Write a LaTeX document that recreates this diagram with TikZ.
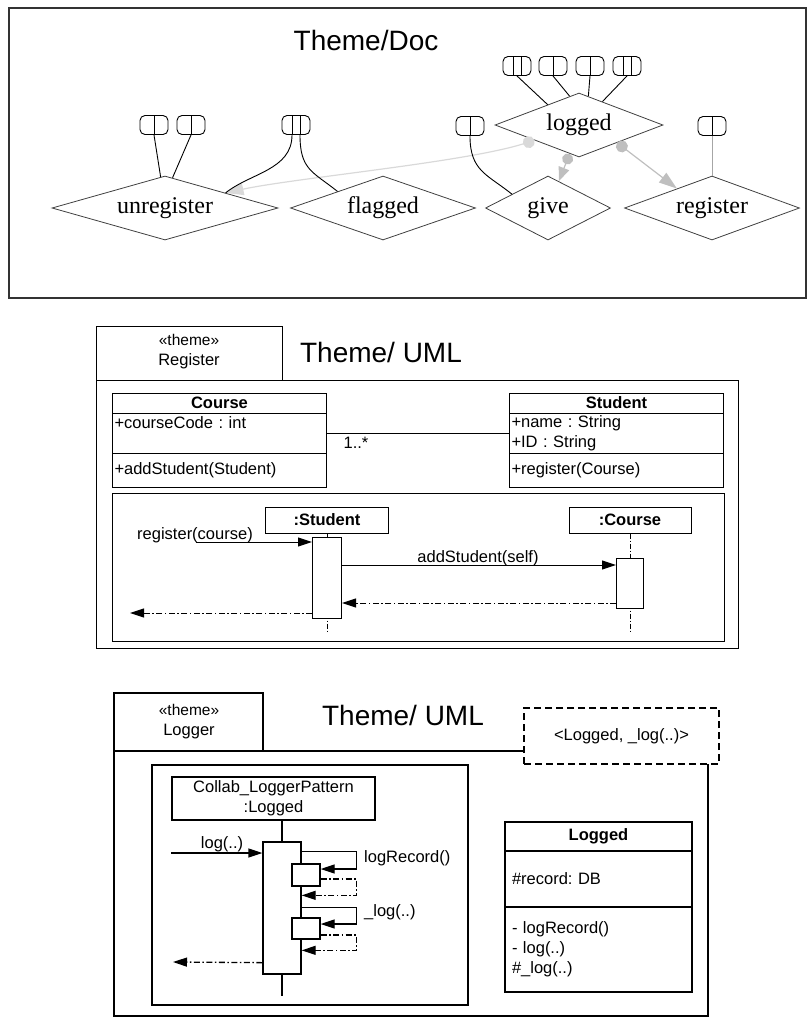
\documentclass[tikz,border=0pt]{standalone}
\usepackage{fontspec}
\setmainfont{Liberation Serif}
\setsansfont{Liberation Sans}
\usetikzlibrary{shapes.geometric,arrows.meta,positioning}
\frenchspacing

\newcommand{\umlfont}{\sffamily\fontsize{16.5}{20}\selectfont}
\newcommand{\ttlfont}{\sffamily\fontsize{28}{32}\selectfont}
\newcommand{\relfont}{\rmfamily\fontsize{24}{28}\selectfont}

\tikzset{
  rel/.style={diamond, draw=black!75, line width=0.8pt, shape aspect=3, inner sep=0pt, minimum height=64pt, font=\relfont},
  portbox/.style={draw, rounded corners=5pt, minimum width=28pt, minimum height=19pt, inner sep=0pt, line width=0.9pt},
  port/.style={portbox, path picture={\draw[line width=0.9pt] (path picture bounding box.north) -- (path picture bounding box.south);}},
  dport/.style={portbox, path picture={\draw[line width=0.9pt] ([xshift=-4pt]path picture bounding box.north) -- ([xshift=-4pt]path picture bounding box.south) ([xshift=4pt]path picture bounding box.north) -- ([xshift=4pt]path picture bounding box.south);}},
  garr/.style={line width=1.2pt, {Circle[length=12pt]}-{Triangle[length=18pt,width=12pt]}},
  clshead/.style={draw, line width=1pt, minimum width=214pt, minimum height=20pt, inner sep=0pt, outer sep=0pt, font=\umlfont\bfseries},
  clsrow/.style={draw, line width=1pt, text width=210pt, inner xsep=2pt, inner ysep=1pt, outer sep=0pt, align=left, font=\umlfont},
  objbox/.style={draw, line width=1pt, minimum height=26pt, inner sep=0pt, font=\umlfont\bfseries},
  act/.style={draw, line width=1pt, fill=white, minimum width=29pt, inner sep=0pt},
  life/.style={line width=0.8pt, dash pattern=on 5pt off 2pt on 1pt off 2pt},
  msg/.style={line width=1pt, -{Triangle[length=14pt,width=9pt]}},
  ret/.style={line width=1pt, dash pattern=on 6pt off 2.5pt on 1.5pt off 2.5pt, -{Triangle[length=14pt,width=9pt]}},
  lbl/.style={font=\umlfont, inner sep=0pt}
}

\begin{document}
\begin{tikzpicture}[x=1pt, y=-1pt]
\useasboundingbox (0,0) rectangle (810,1021);

\draw[line width=1.6pt, draw=black!80] (9,8) rectangle (806,298);
\node[font=\ttlfont] (doctitle) at (366,40) {Theme/Doc};

\node[rel, minimum width=226pt] (unreg) at (165,208) {unregister};
\node[rel, minimum width=185pt] (flag) at (383,208) {flagged};
\node[rel, minimum width=125pt] (give) at (548,208) {give};
\node[rel, minimum width=175pt] (reg) at (712,208) {register};
\node[rel, minimum width=168pt] (logd) at (579,125) {logged};

\node[port] (u1) at (154,125) {};
\node[port] (u2) at (191,125) {};
\node[dport] (fp) at (296,125) {};
\node[port] (gp) at (470,126) {};
\node[port] (rp) at (712,126) {};
\foreach \n/\s/\x in {l1/dport/517, l2/port/553, l3/port/590, l4/dport/627}
  \node[\s] (\n) at (\x,66) {};

\draw[garr, draw=gray!30] (logd.199) .. controls +(-70,22) and +(70,-15) .. (unreg.14);
\draw[line width=1.2pt, draw=gray!50, {Circle[length=11pt]}-{Triangle[length=14pt,width=11pt]}] (logd.252) -- (give.68);
\draw[garr, draw=gray!50] (logd.335) -- (reg.151);

\draw[line width=0.9pt] (u1.south) -- (unreg.98);
\draw[line width=0.9pt] (u2.south) -- (unreg.76);
\draw[line width=0.9pt] ([xshift=-4pt]fp.south) .. controls +(0,35) and +(25,-20) .. (unreg.14);
\draw[line width=0.9pt] ([xshift=4pt]fp.south) .. controls +(0,35) and +(-25,-20) .. (flag.160);
\draw[line width=0.9pt] (gp.south) .. controls +(0,35) and +(-25,-20) .. (give.159);
\draw[line width=0.9pt, gray!70] (rp.south) -- (reg.north);
\draw[line width=0.9pt] (l1.south) -- (logd.147);
\draw[line width=0.9pt] (l2.south) -- (logd.108);
\draw[line width=0.9pt] (l3.south) -- (logd.72);
\draw[line width=0.9pt] (l4.south) -- (logd.45);

\draw[line width=1pt] (96,380) |- (282,326) -- (282,380);
\node[font=\umlfont, align=center] (regtab) at (189,352) {{\fontsize{15.5}{18}\selectfont «theme»}\\Register};
\node[font=\ttlfont] (regttl) at (381,352) {Theme/ UML};
\draw[line width=1pt] (96,380) rectangle (738,648);

\node[clshead] (course) at (219.5,403) {Course};
\node[clsrow, minimum height=40pt, below=0pt of course] (coursea) {+courseCode : int\\\mbox{}};
\node[clsrow, minimum height=34pt, below=0pt of coursea] (courseo) {+addStudent(Student)};
\node[clshead] (student) at (616.5,403) {Student};
\node[clsrow, minimum height=40pt, below=0pt of student] (studenta) {+name : String\\+ID : String};
\node[clsrow, minimum height=34pt, below=0pt of studenta] (studento) {+register(Course)};
\draw[line width=1pt] (coursea.east) -- (studenta.west);
\node[lbl] (mult) at (356,443) {1..*};

\draw[line width=1pt] (112,493) rectangle (724,641);
\node[objbox, minimum width=123pt] (stu) at (327,520) {:Student};
\node[objbox, minimum width=122pt] (crs) at (630,520) {:Course};
\coordinate (stuend) at (327,632);
\coordinate (crsend) at (630,632);
\draw[life] (stu.south) -- (stuend);
\draw[life] (crs.south) -- (crsend);
\node[act, minimum height=81pt] (sact) at (327,577.5) {};
\node[act, minimum width=27pt, minimum height=50pt] (cact) at (630,583) {};

\coordinate (regin) at (196,542);
\draw[msg] (regin) -- (regin -| sact.west);
\node[lbl, anchor=base] (reglab) at (195,539) {register(course)};
\coordinate (addout) at ([yshift=12.5pt]sact.east);
\draw[msg] (addout) -- (addout -| cact.west);
\node[lbl, anchor=base] (addlab) at (478,562) {addStudent(self)};
\coordinate (cret) at ([yshift=-20pt]cact.west);
\draw[ret] (cret) -- (cret -| sact.east);
\coordinate (sret) at ([yshift=-35.5pt]sact.west);
\coordinate (outend) at (130,613);
\draw[ret] (sret) -- (outend);

\draw[line width=1.3pt] (114,751) |- (263,693) -- (263,751);
\node[font=\umlfont, align=center] (logtab) at (189,722) {{\fontsize{15.5}{18}\selectfont «theme»}\\Logger};
\node[font=\ttlfont] (logttl) at (403,715) {Theme/ UML};
\draw[line width=1.3pt] (524,751) -| (114,1016) -| (708,764);
\node[draw, line width=1.3pt, dash pattern=on 7pt off 4pt, minimum width=195pt, minimum height=56pt, font=\umlfont] (bind) at (621.5,736) {<Logged, \_log(..)>};

\draw[line width=1.3pt] (152,765) rectangle (468,1005);
\node[draw, line width=1.3pt, minimum width=203pt, minimum height=43pt, inner sep=0pt, align=center, font=\umlfont] (collab) at (273.5,798.5) {Collab\_LoggerPattern\\:Logged};
\coordinate (lend) at (282,996);
\node[act, line width=1.3pt, minimum width=38pt, minimum height=132pt] (lact) at (282,908) {};
\draw[line width=1.3pt] (lact.north) -- (lact.north |- collab.south);
\draw[line width=1.3pt] (lact.south) -- (lend);
\node[act, line width=1.3pt, minimum width=28pt, minimum height=22pt] (sb1) at (306,875) {};
\node[act, line width=1.3pt, minimum width=28pt, minimum height=21pt] (sb2) at (306,928.5) {};

\coordinate (login) at (171,853);
\draw[msg, line width=1.3pt] (login) -- (login -| lact.west);
\node[lbl, anchor=base] (loglab) at (222,848) {log(..)};
\draw[msg, line width=1.3pt] ([yshift=-10pt]lact.north east) -- ++(55,0) |- ([yshift=6pt]sb1.east);
\draw[ret, line width=1.3pt] ([yshift=-4pt]sb1.east) -- ++(36,0) |- ([yshift=-54pt]lact.north east);
\node[lbl, anchor=west] (lrlab) at (364,858) {logRecord()};
\draw[msg, line width=1.3pt] ([yshift=-66pt]lact.north east) -- ++(55,0) |- ([yshift=4.5pt]sb2.east);
\draw[ret, line width=1.3pt] ([yshift=-6.5pt]sb2.east) -- ++(36,0) |- ([yshift=-109pt]lact.north east);
\node[lbl, anchor=west] (lglab) at (364,912) {\_log(..)};
\coordinate (lret) at ([yshift=12pt]lact.south west);
\coordinate (lretend) at (173,962);
\draw[ret, line width=1.3pt] (lret) -- (lretend);

\node[clshead, line width=1.3pt, minimum width=187pt, minimum height=29pt] (lgd) at (598.5,836.5) {Logged};
\node[clsrow, line width=1.3pt, text width=173pt, inner xsep=7pt, minimum height=56pt, below=0pt of lgd] (lgda) {\#record: DB};
\node[clsrow, line width=1.3pt, text width=173pt, inner xsep=7pt, minimum height=85pt, below=0pt of lgda] (lgdo) {- logRecord()\\- log(..)\\\#\_log(..)};
\end{tikzpicture}
\end{document}
